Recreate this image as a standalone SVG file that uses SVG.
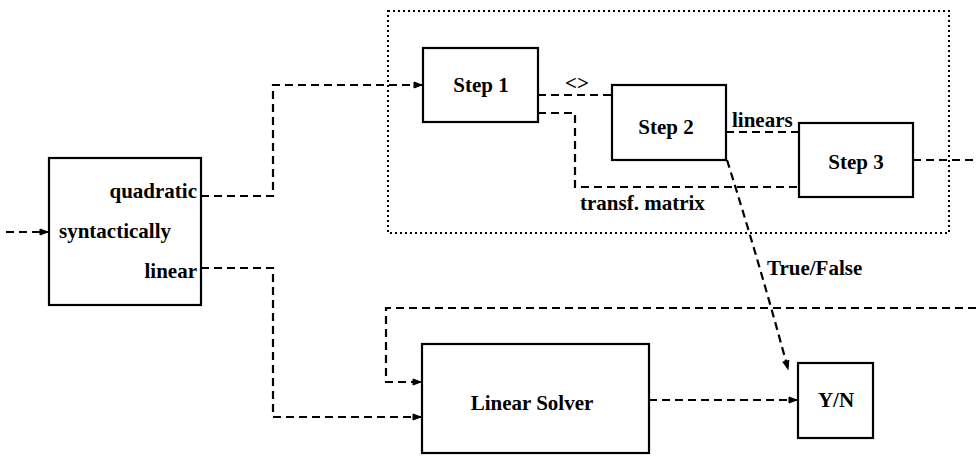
<svg xmlns="http://www.w3.org/2000/svg" width="976" height="457" viewBox="0 0 976 457">
<style>
.box{fill:#fff;stroke:#000;stroke-width:2.2}
.c{fill:none;stroke:#000;stroke-width:2.2;stroke-dasharray:8 5}
.dot{fill:none;stroke:#000;stroke-width:2;stroke-dasharray:2 3}
text{font-family:'Liberation Serif','Times New Roman',serif;font-weight:bold;font-size:21px;fill:#000}
.m{text-anchor:middle}
.e{text-anchor:end}
</style>
<defs>
<marker id="a" markerWidth="10" markerHeight="8" refX="9" refY="4" orient="auto" markerUnits="userSpaceOnUse">
<path d="M1,1 L9,4 L1,7 Z" fill="#000" stroke="#000" stroke-width="1"/>
</marker>
</defs>
<rect class="dot" x="388" y="11" width="561" height="222"/>
<g id="connectors">
<path class="c" d="M6,232 H48" marker-end="url(#a)"/>
<path class="c" d="M201,196 H273 V85 H422" marker-end="url(#a)"/>
<path class="c" d="M201,268 H273 V417 H421" marker-end="url(#a)"/>
<path class="c" d="M538,95 H612"/>
<path class="c" d="M538,113 H575 V187 H799"/>
<path class="c" d="M726,132 H799"/>
<path class="c" d="M913,160 H976"/>
<path class="c" d="M727,160 Q760,265 788,369" marker-end="url(#a)"/>
<path class="c" d="M976,308 H386 V382 H421" marker-end="url(#a)"/>
<path class="c" d="M649,400 H797" marker-end="url(#a)"/>
</g>
<g id="classifier">
<rect class="box" x="49" y="158" width="152" height="147"/>
<text class="e" x="197" y="198">quadratic</text>
<text x="59" y="238">syntactically</text>
<text class="e" x="197" y="278">linear</text>
</g>
<g id="step1">
<rect class="box" x="423" y="48" width="115" height="74"/>
<text class="m" x="481" y="92">Step 1</text>
</g>
<g id="step2">
<rect class="box" x="612" y="85" width="114" height="75"/>
<text class="m" x="666" y="134">Step 2</text>
</g>
<g id="step3">
<rect class="box" x="799" y="123" width="114" height="74"/>
<text class="m" x="856" y="169">Step 3</text>
</g>
<g id="linear-solver">
<rect class="box" x="422" y="344" width="227" height="109"/>
<text class="m" x="532" y="410">Linear Solver</text>
</g>
<g id="yn">
<rect class="box" x="798" y="363" width="75" height="75"/>
<text class="m" x="836" y="407">Y/N</text>
</g>
<g id="labels">
<text class="m" x="577" y="90">&lt;&gt;</text>
<text x="732" y="127">linears</text>
<text x="580" y="210">transf. matrix</text>
<text x="767" y="275">True/False</text>
</g>
</svg>
